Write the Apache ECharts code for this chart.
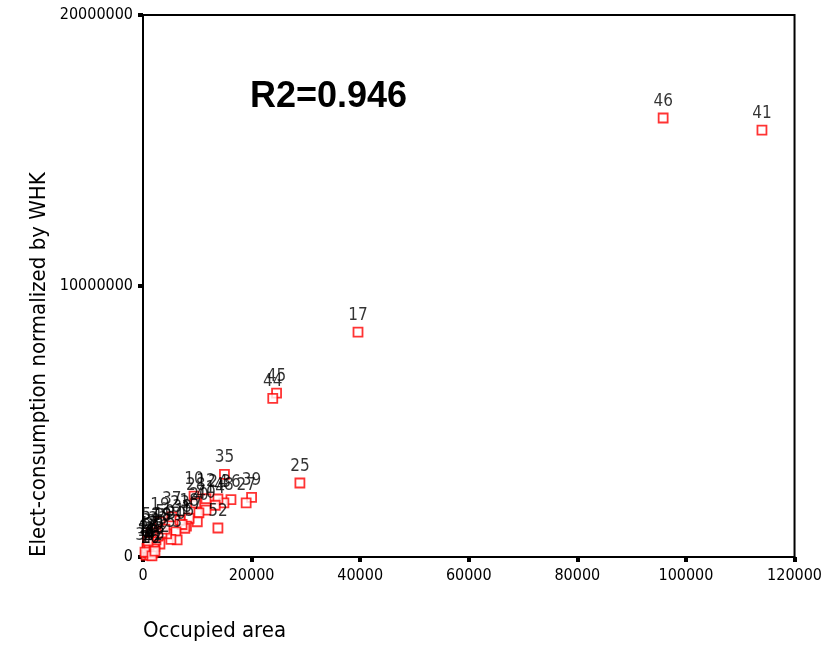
<!DOCTYPE html>
<html>
<head>
<meta charset="utf-8">
<script src="https://cdn.jsdelivr.net/npm/echarts@6/dist/echarts.min.js"></script>
<style>
html,body{margin:0;padding:0;background:#fff;}
#chart{width:825px;height:647px;}
</style>
</head>
<body>
<div id="chart"></div>
<script>
const caseIds = [41,46,17,45,44,25,35,39,27,36,48,24,14,12,10,28,40,20,7,18,52,1,15,37,23,38,19,30,3,5,8,22,13,2,4,6,9,11,16,21,26,29,31,32,33,34,42,43,47,49,50,51];
const occupiedArea = [114000,95800,39600,24600,23900,28900,15000,20000,19000,16200,14900,13800,13300,11600,9400,9700,11600,10300,10000,8500,13800,8000,7700,5300,6800,7200,3120,6060,6290,5140,4350,3120,2200,550,920,1280,1650,730,1280,1830,1100,2020,2390,1470,2750,370,1650,2200,920,3490,4040,1500];
const electConsumption = [15750000,16200000,8300000,6050000,5850000,2730000,3050000,2200000,2000000,2120000,2000000,2140000,1910000,2150000,2250000,2000000,1730000,1630000,1300000,1430000,1070000,1140000,1060000,1480000,1350000,1200000,1290000,930000,630000,650000,850000,480000,380000,70000,150000,260000,330000,330000,70000,150000,440000,520000,630000,700000,770000,180000,40000,220000,590000,890000,1030000,900000];
const xTicks = {min:0, max:120000, interval:20000};
const yTicks = {min:0, max:20000000, interval:10000000};
const r2Text = 'R2=0.946';

const FONT = '"DejaVu Sans Condensed", "Liberation Sans", Arial, sans-serif';
const data = occupiedArea.map((x,i)=>[x, electConsumption[i], caseIds[i]]);

const chart = echarts.init(document.getElementById('chart'), null, {renderer:'canvas'});
chart.setOption({
  animation:false,
  backgroundColor:'#fff',
  grid:{left:143, right:28, top:15, bottom:90, show:true, borderColor:'#000', borderWidth:2, backgroundColor:'transparent'},
  xAxis:{
    type:'value', min:xTicks.min, max:xTicks.max, interval:xTicks.interval,
    splitLine:{show:false},
    axisLine:{show:true, onZero:false, lineStyle:{color:'#000', width:2}},
    axisTick:{show:true, length:5, lineStyle:{color:'#000', width:4}},
    axisLabel:{color:'#000', fontFamily:FONT, fontSize:16, margin:11, formatter:v=>String(v)}
  },
  yAxis:{
    type:'value', min:yTicks.min, max:yTicks.max, interval:yTicks.interval,
    splitLine:{show:false},
    axisLine:{show:true, onZero:false, lineStyle:{color:'#000', width:2}},
    axisTick:{show:true, length:5, lineStyle:{color:'#000', width:4}},
    axisLabel:{color:'#000', fontFamily:FONT, fontSize:16, margin:10, formatter:v=>String(v)}
  },
  graphic:[
    {type:'text', left:250, top:79, style:{text:r2Text, fill:'#000', font:'bold 36px "Liberation Sans", Arial, sans-serif'}},
    {type:'text', left:143, top:620, style:{text:'Occupied area', fill:'#000', font:'22px "DejaVu Sans Condensed", "Liberation Sans", sans-serif'}},
    {type:'text', x:28, y:557, rotation:Math.PI/2, style:{text:'Elect-consumption normalized by WHK', fill:'#000', font:'22px "DejaVu Sans Condensed", "Liberation Sans", sans-serif', textAlign:'left', textVerticalAlign:'top'}}
  ],
  series:[{
    type:'scatter',
    data:data,
    symbol:'rect',
    symbolSize:9,
    itemStyle:{color:'#fff', borderColor:'#ff0000', borderWidth:1.8},
    label:{show:true, position:'top', distance:3, color:'#000', fontFamily:FONT, fontSize:17,
      formatter:p=>String(p.value[2])},
    emphasis:{disabled:true}
  }]
});
</script>
</body>
</html>
